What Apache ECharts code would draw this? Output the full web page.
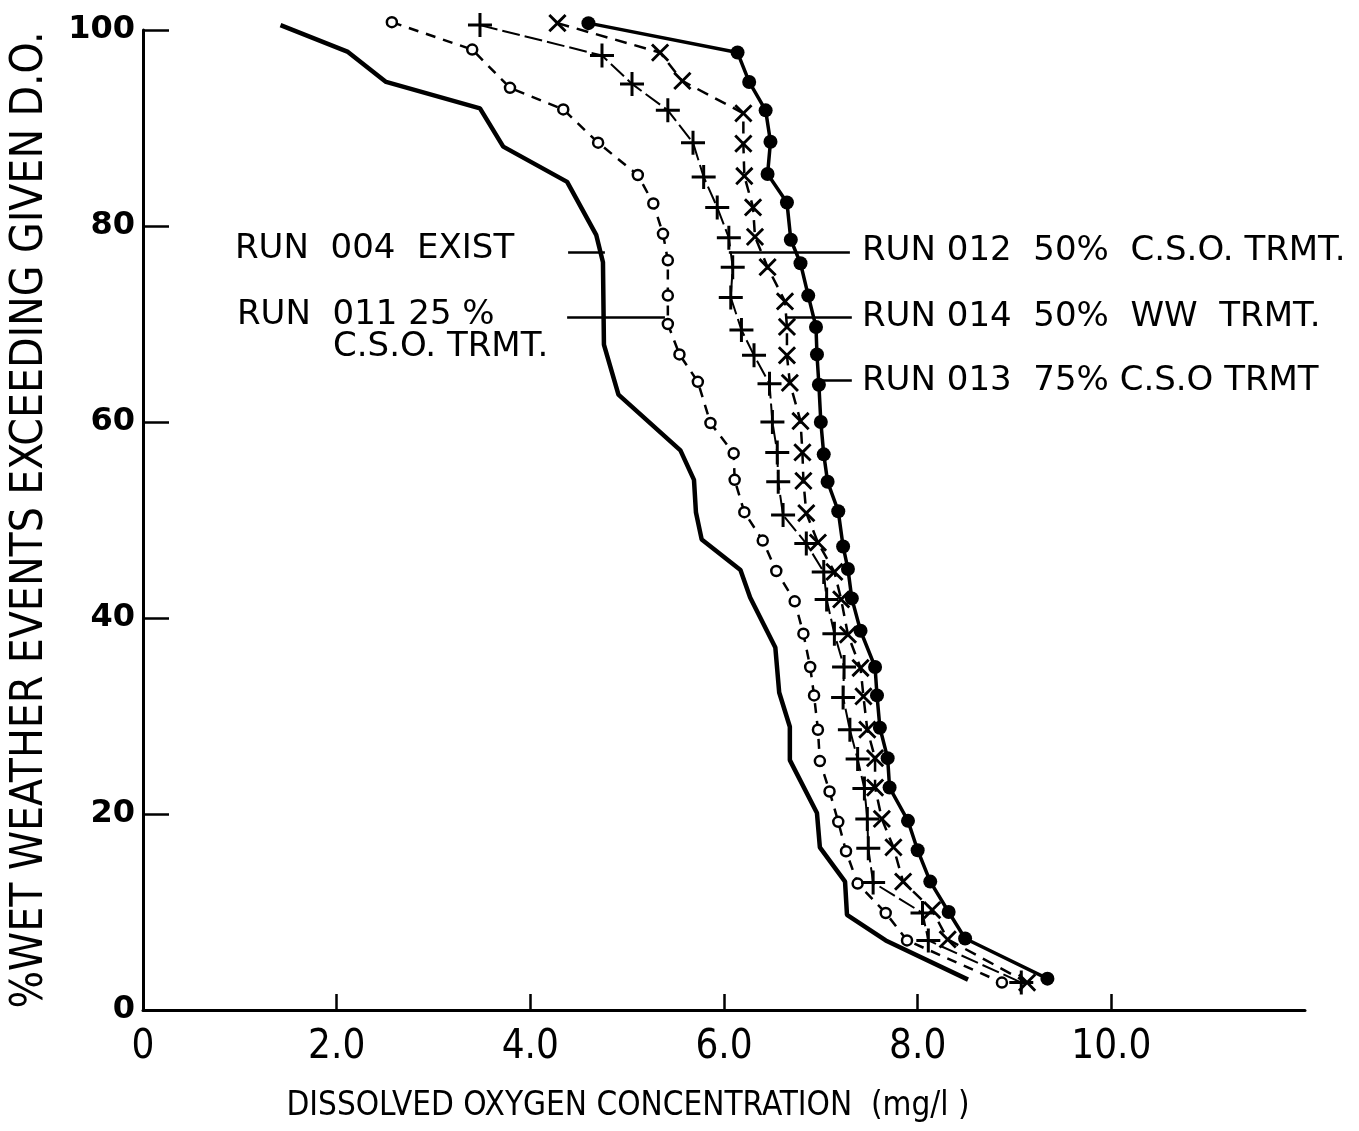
<!DOCTYPE html>
<html>
<head>
<meta charset="utf-8">
<script src="https://cdn.jsdelivr.net/npm/echarts@6/dist/echarts.min.js"></script>
<style>
  html, body { margin: 0; padding: 0; background: #fff; }
  #main { width: 1359px; height: 1131px; }
</style>
</head>
<body>
<div id="main"></div>
<script>
    // D.O. (mg/l) and % wet weather events exceeding
    var run004X = [1.42, 2.11, 2.51, 3.48, 3.72, 4.38, 4.68, 4.75, 4.76, 4.91, 5.55, 5.69, 5.71, 5.77, 6.17, 6.27, 6.53, 6.57, 6.68, 6.68, 6.96, 6.99, 7.25, 7.27, 7.67, 8.52];
    var run004Y = [100.5, 97.8, 94.7, 92.0, 88.1, 84.5, 79.1, 76.3, 67.9, 62.8, 57.1, 54.1, 50.8, 48.0, 44.9, 42.1, 37.0, 32.4, 28.9, 25.5, 20.1, 16.6, 13.1, 9.7, 7.1, 3.1];

    var run011X = [2.57, 3.40, 3.79, 4.34, 4.70, 5.11, 5.27, 5.37, 5.42, 5.42, 5.42, 5.54, 5.73, 5.86, 6.10, 6.11, 6.21, 6.40, 6.54, 6.73, 6.82, 6.89, 6.93, 6.97, 6.99, 7.09, 7.18, 7.26, 7.38, 7.67, 7.89, 8.87];
    var run011Y = [100.8, 98.0, 94.1, 91.9, 88.5, 85.2, 82.3, 79.2, 76.5, 72.9, 70.0, 66.9, 64.1, 59.9, 56.8, 54.1, 50.8, 47.9, 44.8, 41.7, 38.4, 35.0, 32.1, 28.6, 25.4, 22.3, 19.2, 16.2, 12.9, 9.9, 7.1, 2.8];

    var run012X = [3.48, 4.74, 5.05, 5.42, 5.68, 5.79, 5.93, 6.05, 6.09, 6.07, 6.18, 6.31, 6.47, 6.50, 6.55, 6.56, 6.61, 6.85, 7.03, 7.06, 7.14, 7.24, 7.23, 7.30, 7.38, 7.45, 7.48, 7.49, 7.54, 8.05, 8.11, 9.07];
    var run012Y = [100.5, 97.4, 94.5, 91.8, 88.5, 85.0, 81.9, 78.8, 75.8, 72.7, 69.4, 66.8, 63.9, 60.0, 56.9, 53.9, 50.5, 47.6, 44.7, 41.9, 38.4, 35.0, 31.9, 28.6, 25.6, 22.6, 19.5, 16.5, 13.0, 9.9, 7.1, 2.8];

    var run014X = [4.28, 5.34, 5.57, 6.20, 6.20, 6.21, 6.30, 6.32, 6.45, 6.63, 6.65, 6.65, 6.68, 6.79, 6.81, 6.82, 6.85, 6.97, 7.14, 7.21, 7.28, 7.41, 7.44, 7.48, 7.56, 7.56, 7.63, 7.75, 7.85, 8.15, 8.31, 9.13];
    var run014Y = [100.7, 97.7, 94.8, 91.5, 88.4, 85.1, 81.9, 78.9, 75.8, 72.3, 69.7, 66.8, 64.0, 60.1, 56.9, 54.0, 50.7, 47.7, 44.7, 41.9, 38.3, 34.9, 32.0, 28.6, 25.7, 22.7, 19.5, 16.6, 13.1, 10.2, 7.2, 2.8];

    var run013X = [4.60, 6.14, 6.26, 6.43, 6.48, 6.45, 6.65, 6.69, 6.79, 6.87, 6.95, 6.96, 6.98, 7.00, 7.03, 7.07, 7.18, 7.23, 7.28, 7.32, 7.41, 7.56, 7.58, 7.61, 7.69, 7.71, 7.90, 8.00, 8.13, 8.32, 8.49, 9.34];
    var run013Y = [100.7, 97.7, 94.7, 91.8, 88.6, 85.3, 82.4, 78.6, 76.2, 72.9, 69.7, 66.9, 63.8, 60.0, 56.7, 53.9, 50.9, 47.3, 45.0, 42.0, 38.7, 35.0, 32.1, 28.8, 25.7, 22.7, 19.3, 16.3, 13.1, 10.0, 7.3, 3.2];

    var xTickValues = [2, 4, 6, 8, 10];
    var xLabelValues = [0, 2, 4, 6, 8, 10];

    // leader lines from the labels to the curves: [x start, x end, y]
    var leader004 = [4.39, 4.77, 77.3];
    var leader011 = [4.38, 5.39, 70.7];
    var leader012 = [6.05, 7.30, 77.3];
    var leader014 = [6.63, 7.32, 70.7];
    var leader013 = [6.99, 7.32, 64.3];

    var plusPath = 'path://M10.5,0h3v10.5h10.5v3h-10.5v10.5h-3v-10.5h-10.5v-3h10.5z';
    var font = 'DejaVu Sans';
    var fontCond = '"DejaVu Sans Condensed", "DejaVu Sans", sans-serif';

    function pairs(xs, ys) {
        var out = [];
        for (var i = 0; i < xs.length; i++) {
            out.push([xs[i], ys[i]]);
        }
        return out;
    }

    function leader(l) {
        return {
            silent: true,
            symbol: ['none', 'none'],
            label: { show: false },
            lineStyle: { color: '#000', width: 2.5, type: 'solid' },
            data: [[{ coord: [l[0], l[2]] }, { coord: [l[1], l[2]] }]]
        };
    }

    function DrawChart() {
        var chart = echarts.init(document.getElementById('main'));

        chart.setOption({
            animation: false,
            backgroundColor: '#fff',
            grid: {
                left: 143,
                right: 54,
                top: 30,
                bottom: 121
            },
            xAxis: {
                type: 'value',
                min: 0,
                max: 12,
                interval: 2,
                splitLine: { show: false },
                axisLine: { lineStyle: { color: '#000', width: 3 } },
                axisTick: {
                    show: true,
                    inside: true,
                    length: 16,
                    customValues: xTickValues,
                    lineStyle: { color: '#000', width: 2.5 }
                },
                axisLabel: {
                    customValues: xLabelValues,
                    margin: 18,
                    color: '#000',
                    fontFamily: fontCond,
                    fontSize: 40,
                    formatter: function (v) { return v === 0 ? '0' : v.toFixed(1); }
                },
                name: 'DISSOLVED OXYGEN CONCENTRATION  (mg/l )',
                nameLocation: 'middle',
                nameGap: 80,
                nameTextStyle: {
                    color: '#000',
                    fontFamily: fontCond,
                    fontSize: 33,
                    padding: [0, 192, 0, 0]
                }
            },
            yAxis: {
                type: 'value',
                min: 0,
                max: 100,
                interval: 20,
                splitLine: { show: false },
                axisLine: { lineStyle: { color: '#000', width: 3 } },
                axisTick: {
                    show: true,
                    inside: true,
                    length: 26,
                    lineStyle: { color: '#000', width: 2.5 }
                },
                axisLabel: {
                    margin: 8,
                    color: '#000',
                    fontFamily: font,
                    fontWeight: 'bold',
                    fontSize: 32
                },
                name: '%WET WEATHER EVENTS EXCEEDING GIVEN D.O.',
                nameLocation: 'middle',
                nameGap: 90,
                nameTextStyle: {
                    color: '#000',
                    fontFamily: fontCond,
                    fontSize: 44
                }
            },
            series: [
                {
                    name: 'RUN 004 EXIST',
                    type: 'line',
                    clip: false,
                    showSymbol: false,
                    lineStyle: { color: '#000', width: 4.5 },
                    data: pairs(run004X, run004Y),
                    markLine: leader(leader004)
                },
                {
                    name: 'RUN 011 25% C.S.O. TRMT.',
                    type: 'line',
                    clip: false,
                    symbol: 'circle',
                    symbolSize: 10,
                    itemStyle: { color: '#fff', borderColor: '#000', borderWidth: 2.5 },
                    lineStyle: { color: '#000', width: 2.5, type: [10, 8] },
                    data: pairs(run011X, run011Y),
                    markLine: leader(leader011)
                },
                {
                    name: 'RUN 012 50% C.S.O. TRMT.',
                    type: 'line',
                    clip: false,
                    symbol: plusPath,
                    symbolSize: 24,
                    itemStyle: { color: '#000' },
                    lineStyle: { color: '#000', width: 2, type: [18, 5] },
                    data: pairs(run012X, run012Y),
                    markLine: leader(leader012)
                },
                {
                    name: 'RUN 014 50% WW TRMT.',
                    type: 'line',
                    clip: false,
                    symbol: plusPath,
                    symbolRotate: 45,
                    symbolSize: 23,
                    itemStyle: { color: '#000' },
                    lineStyle: { color: '#000', width: 2.5, type: [12, 8] },
                    data: pairs(run014X, run014Y),
                    markLine: leader(leader014)
                },
                {
                    name: 'RUN 013 75% C.S.O TRMT',
                    type: 'line',
                    clip: false,
                    symbol: 'circle',
                    symbolSize: 14,
                    itemStyle: { color: '#000' },
                    lineStyle: { color: '#000', width: 3.5 },
                    data: pairs(run013X, run013Y),
                    markLine: leader(leader013)
                }
            ],
            graphic: [
                { type: 'text', left: 235, top: 232, style: { text: 'RUN  004  EXIST', font: '34px ' + font, fill: '#000' } },
                { type: 'text', left: 237, top: 298, style: { text: 'RUN  011 25 %', font: '34px ' + font, fill: '#000' } },
                { type: 'text', left: 333, top: 330, style: { text: 'C.S.O. TRMT.', font: '34px ' + font, fill: '#000' } },
                { type: 'text', left: 862, top: 234, style: { text: 'RUN 012  50%  C.S.O. TRMT.', font: '34px ' + font, fill: '#000' } },
                { type: 'text', left: 862, top: 300, style: { text: 'RUN 014  50%  WW  TRMT.', font: '34px ' + font, fill: '#000' } },
                { type: 'text', left: 862, top: 364, style: { text: 'RUN 013  75% C.S.O TRMT', font: '34px ' + font, fill: '#000' } }
            ]
        });
    }

    DrawChart();
</script>
</body>
</html>
